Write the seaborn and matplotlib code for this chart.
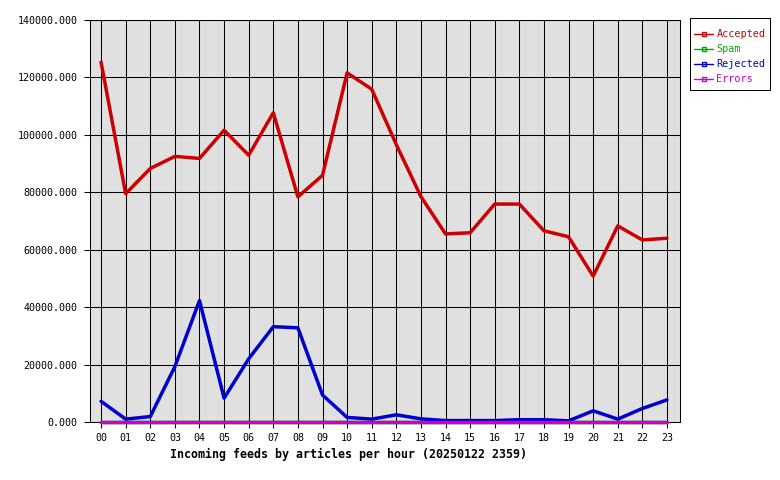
import matplotlib
matplotlib.use("Agg")
import matplotlib.pyplot as plt
from matplotlib.lines import Line2D
from matplotlib.patches import Rectangle
import seaborn as sns
import pandas as pd

hours = ["00", "01", "02", "03", "04", "05", "06", "07", "08", "09", "10", "11",
         "12", "13", "14", "15", "16", "17", "18", "19", "20", "21", "22", "23"]
accepted = [125300, 79500, 88300, 92500, 91800, 101600, 92900, 107700, 78400, 85900,
            121600, 115900, 96600, 78500, 65500, 65900, 75900, 75900, 66600, 64500,
            50800, 68300, 63400, 64000]
spam = [0] * 24
rejected = [7200, 1000, 1900, 19300, 42300, 8300, 22000, 33200, 32800, 9400,
            1600, 1000, 2500, 1100, 500, 500, 500, 800, 800, 400,
            3900, 1000, 4700, 7700]
errors = [0] * 24

series = ["Accepted", "Spam", "Rejected", "Errors"]
colors = {"Accepted": "#cc0000", "Spam": "#00aa00", "Rejected": "#0000cc", "Errors": "#cc00cc"}

rows = []
for name, vals in zip(series, [accepted, spam, rejected, errors]):
    for i, v in enumerate(vals):
        rows.append({"hour": i, "value": v, "series": name})
df = pd.DataFrame(rows)

sns.set_theme(style="white")
plt.rcParams["font.family"] = ["DejaVu Sans Mono", "DejaVu Sans"]

W, H = 780, 480
fig = plt.figure(figsize=(7.8, 4.8), dpi=100)
ax = fig.add_axes([90 / W, 1 - 422 / H, 590 / W, 402 / H])
ax.set_facecolor("#e0e0e0")

sns.lineplot(data=df, x="hour", y="value", hue="series", hue_order=series,
             palette=colors, linewidth=2.5, ax=ax, legend=False, clip_on=False, zorder=3)

ax.set_xlim(-0.45, 23.53)
ax.set_ylim(0, 140000)
ax.set_xticks(range(24))
ax.set_xticklabels(hours)
yt = list(range(0, 140001, 20000))
ax.set_yticks(yt)
ax.set_yticklabels([f"{v}.000" for v in yt])
ax.grid(True, color="black", linewidth=0.75)
ax.set_axisbelow(True)
for s in ax.spines.values():
    s.set_color("black")
    s.set_linewidth(0.75)
    s.set_visible(True)
ax.tick_params(axis="both", direction="out", length=4, width=0.75, color="black",
               labelsize=7.2, labelcolor="black", left=True, bottom=True)
ax.tick_params(axis="x", pad=4)
ax.tick_params(axis="y", pad=5)
ax.set_ylabel("")
ax.set_xlabel("Incoming feeds by articles per hour (20250122 2359)",
              fontsize=8.4, fontweight="bold", color="black", labelpad=3)
ax.xaxis.set_label_coords(0.438, -0.065)

# legend frame
fig.patches.append(Rectangle((690 / W, 1 - 90 / H), 80 / W, 72 / H, transform=fig.transFigure,
                             facecolor="white", edgecolor="black", linewidth=0.75, zorder=1))

handles = [Line2D([0], [0], color=colors[n], lw=1, marker="s", markersize=3,
                  markerfacecolor="none", markeredgewidth=1) for n in series]
leg = fig.legend(handles, series, loc="upper left", bbox_to_anchor=(686 / W, 1 - 21 / H),
                 frameon=False, fontsize=7.3, handlelength=1.9, handletextpad=0.3,
                 labelspacing=0.5, borderpad=0.8, borderaxespad=0)
leg.set_zorder(5)
for t, n in zip(leg.get_texts(), series):
    t.set_color(colors[n])

fig.savefig("out.png", dpi=100, facecolor="white")
